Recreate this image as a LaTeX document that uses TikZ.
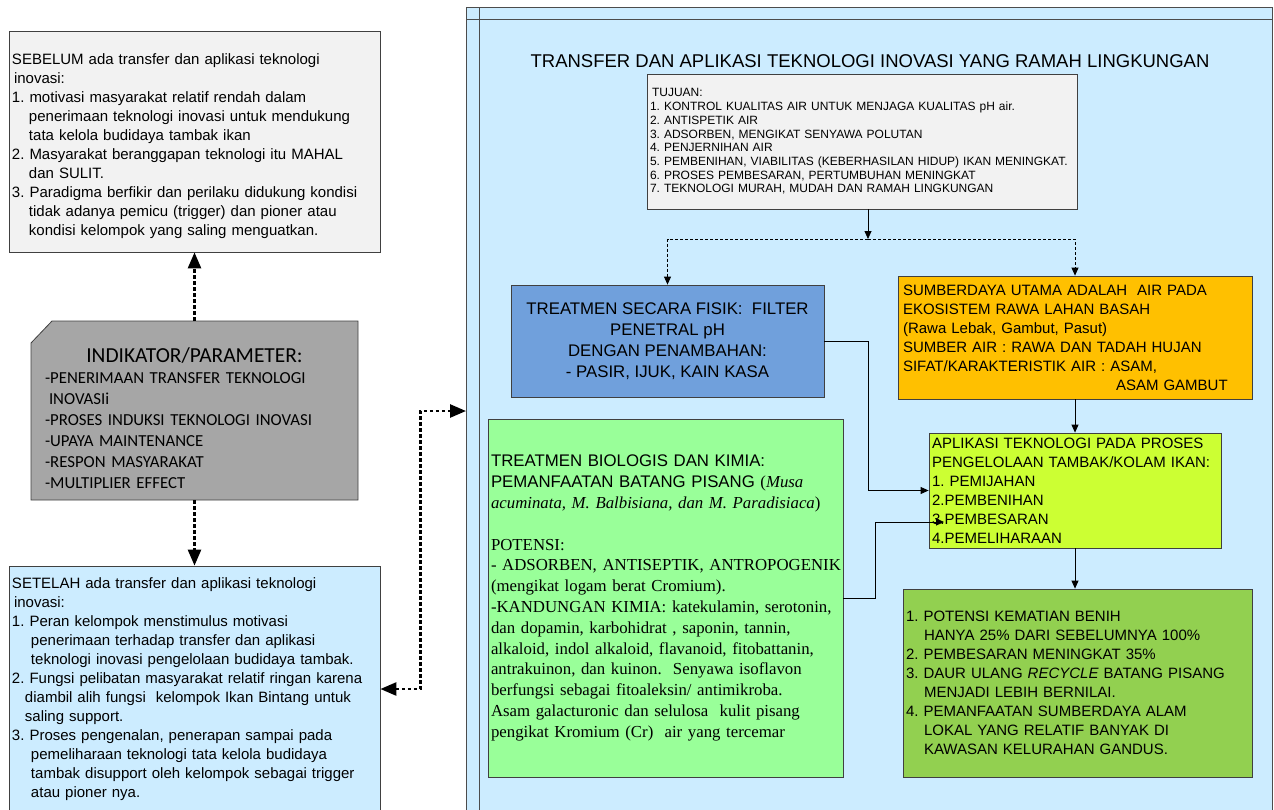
\documentclass[tikz,border=0pt]{standalone}
\usepackage{fontspec}
\setmainfont{Liberation Sans}
\newfontfamily\timesfont{Liberation Serif}
\newfontfamily\arialfont{Liberation Sans}
\newfontfamily\calfont{Carlito}
\usetikzlibrary{arrows.meta}
\definecolor{panelblue}{RGB}{204,236,255}
\definecolor{paleGray}{RGB}{242,242,242}
\definecolor{midGray}{RGB}{166,166,166}
\definecolor{fisikBlue}{RGB}{112,160,220}
\definecolor{amber}{RGB}{255,192,0}
\definecolor{limeFill}{RGB}{204,255,51}
\definecolor{mintFill}{RGB}{153,255,153}
\definecolor{leafFill}{RGB}{146,208,80}

\begin{document}
\frenchspacing
\begin{tikzpicture}[x=1pt,y=-1pt,
  box/.style={draw=black!75,line width=0.8pt,inner sep=0pt,align=left},
  arr/.style={line width=0.8pt,-{Triangle[length=8pt,width=7pt]}},
  dasharr/.style={arr,dash pattern=on 3pt off 2pt},
  dotlink/.style={line width=2.6pt,dash pattern=on 3.5pt off 2.5pt},
  bigtip/.tip={Triangle[length=16pt,width=13pt]}]
  \useasboundingbox (0,0) rectangle (1274,809);
  % left column
  \node[box,fill=paleGray,minimum width=371pt,minimum height=221pt,text width=365pt,
    font=\fontsize{15}{19}\selectfont] (sebelum) at (194.5,141.5) {%
    \rule{0pt}{20pt}SEBELUM ada transfer dan aplikasi teknologi\\
    \hspace*{2pt}inovasi:\\
    1. motivasi masyarakat relatif rendah dalam\\
    \hspace*{17pt}penerimaan teknologi inovasi untuk mendukung\\
    \hspace*{17pt}tata kelola budidaya tambak ikan\\
    2. Masyarakat beranggapan teknologi itu MAHAL\\
    \hspace*{17pt}dan SULIT.\\
    3. Paradigma berfikir dan perilaku didukung kondisi\\
    \hspace*{17pt}tidak adanya pemicu (trigger) dan pioner atau\\
    \hspace*{17pt}kondisi kelompok yang saling menguatkan.};
  % clipped corner of the indicator card
  \filldraw[draw=black!75,line width=0.8pt,fill=midGray]
    (31,343) -- (52,321) -- (358,321) -- (358,500) -- (31,500) -- cycle;
  \node[inner sep=0pt,align=left,minimum width=327pt,minimum height=179pt,text width=299pt,
    font=\calfont\fontsize{16.8}{21}\selectfont] (indikator) at (194.5,410.5) {%
    \rule{0pt}{30pt}\makebox[\linewidth][c]{\fontsize{21.4}{24}\selectfont INDIKATOR/PARAMETER:}\\
    -PENERIMAAN TRANSFER TEKNOLOGI\\
    \hspace*{4pt}INOVASIi\\
    -PROSES INDUKSI TEKNOLOGI INOVASI\\
    -UPAYA MAINTENANCE\\
    -RESPON MASYARAKAT\\
    -MULTIPLIER EFFECT};
  \node[box,fill=panelblue,minimum width=371pt,minimum height=246pt,text width=365pt,
    font=\fontsize{15}{19}\selectfont] (setelah) at (194.5,689) {%
    SETELAH ada transfer dan aplikasi teknologi\\
    \hspace*{2pt}inovasi:\\
    1. Peran kelompok menstimulus motivasi\\
    \hspace*{19pt}penerimaan terhadap transfer dan aplikasi\\
    \hspace*{19pt}teknologi inovasi pengelolaan budidaya tambak.\\
    2. Fungsi pelibatan masyarakat relatif ringan karena\\
    \hspace*{13pt}diambil alih fungsi\ \ kelompok Ikan Bintang untuk\\
    \hspace*{13pt}saling support.\\
    3. Proses pengenalan, penerapan sampai pada\\
    \hspace*{19pt}pemeliharaan teknologi tata kelola budidaya\\
    \hspace*{19pt}tambak disupport oleh kelompok sebagai trigger\\
    \hspace*{19pt}atau pioner nya.};
  % right panel
  \node[box,fill=panelblue,draw=black!70,minimum width=806pt,minimum height=805pt] (panel) at (869,409.5) {};
  \draw[black!70,line width=0.8pt] (479,7) -- (479,812);
  \draw[black!70,line width=0.8pt] (466,19) -- (1272,19);
  \node[font=\fontsize{18.5}{22}\selectfont] (judul) at (870,61)
    {TRANSFER DAN APLIKASI TEKNOLOGI INOVASI YANG RAMAH LINGKUNGAN};
  \node[box,fill=paleGray,minimum width=430pt,minimum height=135pt,text width=424pt,
    font=\fontsize{12}{13.7}\selectfont] (tujuan) at (862,141.5) {%
    \hspace*{2pt}TUJUAN:\\
    1. KONTROL KUALITAS AIR UNTUK MENJAGA KUALITAS pH air.\\
    2. ANTISPETIK AIR\\
    3. ADSORBEN, MENGIKAT SENYAWA POLUTAN\\
    4. PENJERNIHAN AIR\\
    5. PEMBENIHAN, VIABILITAS (KEBERHASILAN HIDUP) IKAN MENINGKAT.\\
    6. PROSES PEMBESARAN, PERTUMBUHAN MENINGKAT\\
    7. TEKNOLOGI MURAH, MUDAH DAN RAMAH LINGKUNGAN};
  \node[box,fill=fisikBlue,align=center,minimum width=313pt,minimum height=112pt,
    font=\fontsize{16.8}{21}\selectfont] (fisik) at (667.5,341) {%
    TREATMEN SECARA FISIK:\ \ FILTER\\
    PENETRAL pH\\
    DENGAN PENAMBAHAN:\\
    - PASIR, IJUK, KAIN KASA};
  \node[box,fill=amber,minimum width=354pt,minimum height=123pt,text width=344pt,
    font=\fontsize{15}{19}\selectfont] (sumber) at (1075,337.5) {%
    SUMBERDAYA UTAMA ADALAH\ \ AIR PADA\\
    EKOSISTEM RAWA LAHAN BASAH\\
    (Rawa Lebak, Gambut, Pasut)\\
    SUMBER AIR : RAWA DAN TADAH HUJAN\\
    SIFAT/KARAKTERISTIK AIR : ASAM,\\
    \hspace*{213pt}ASAM GAMBUT};
  \node[box,fill=limeFill,minimum width=292pt,minimum height=115pt,text width=286pt,
    font=\fontsize{15}{19}\selectfont] (aplikasi) at (1075,490.5) {%
    APLIKASI TEKNOLOGI PADA PROSES\\
    PENGELOLAAN TAMBAK/KOLAM IKAN:\\
    1. PEMIJAHAN\\
    2.PEMBENIHAN\\
    3.PEMBESARAN\\
    4.PEMELIHARAAN};
  \node[box,fill=mintFill,minimum width=355pt,minimum height=358pt,text width=349pt,
    font=\timesfont\fontsize{16.8}{20.8}\selectfont] (biologis) at (665.5,598) {%
    {\arialfont TREATMEN BIOLOGIS DAN KIMIA:}\\
    {\arialfont PEMANFAATAN BATANG PISANG }(\textit{Musa}\\
    \textit{acuminata, M. Balbisiana, dan M. Paradisiaca})\\[20.8pt]
    POTENSI:\\
    \mbox{- ADSORBEN, ANTISEPTIK, ANTROPOGENIK}\\
    (mengikat logam berat Cromium).\\
    -KANDUNGAN KIMIA: katekulamin, serotonin,\\
    dan dopamin, karbohidrat , saponin, tannin,\\
    alkaloid, indol alkaloid, flavanoid, fitobattanin,\\
    antrakuinon, dan kuinon.\ \ Senyawa isoflavon\\
    berfungsi sebagai fitoaleksin/ antimikroba.\\
    Asam galacturonic dan selulosa\ \ kulit pisang\\
    pengikat Kromium (Cr)\ \ air yang tercemar};
  \node[box,fill=leafFill,minimum width=349pt,minimum height=188pt,text width=343pt,
    font=\fontsize{15}{19}\selectfont] (hasil) at (1077.5,683) {%
    1. POTENSI KEMATIAN BENIH\\
    \hspace*{18pt}HANYA 25\% DARI SEBELUMNYA 100\%\\
    2. PEMBESARAN MENINGKAT 35\%\\
    3. DAUR ULANG \textit{RECYCLE} BATANG PISANG\\
    \hspace*{18pt}MENJADI LEBIH BERNILAI.\\
    4. PEMANFAATAN SUMBERDAYA ALAM\\
    \hspace*{18pt}LOKAL YANG RELATIF BANYAK DI\\
    \hspace*{18pt}KAWASAN KELURAHAN GANDUS.};
  % links in the panel
  \coordinate (split) at (868,239);
  \coordinate (tip3) at (944,522);
  \draw[arr] (tujuan.south -| split) -- (split);
  \draw[dasharr] (split) -| (fisik.north);
  \draw[dasharr] (split) -| (sumber.north);
  \draw[arr] (fisik.east) -- ++(44,0) |- (aplikasi.west);
  \draw[arr] (biologis.east) -- ++(32,0) |- (tip3);
  \draw[arr] (sumber.south) -- (aplikasi.north);
  \draw[arr] (aplikasi.south) -- (aplikasi.south |- hasil.north);
  % dotted links on the left
  \coordinate (panelin) at (466,411);
  \draw[dotlink,-bigtip] (indikator.north) -- (sebelum.south);
  \draw[dotlink,-bigtip] (indikator.south) -- (setelah.north);
  \draw[dotlink,bigtip-bigtip] (setelah.east) -- ++(40,0) |- (panelin);
\end{tikzpicture}
\end{document}
